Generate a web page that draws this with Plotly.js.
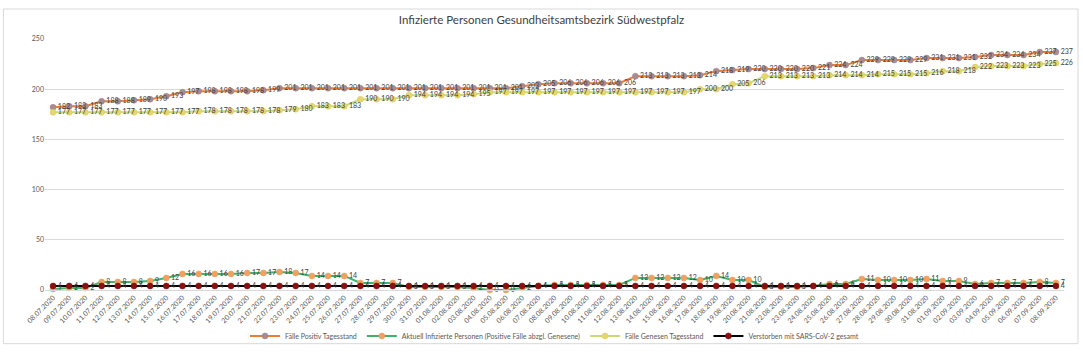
<!DOCTYPE html>
<html>
<head>
<meta charset="utf-8">
<script src="https://cdn.plot.ly/plotly-3.0.1.min.js"></script>
<style>
html,body{margin:0;padding:0;background:#ffffff;}
#chart{width:1083px;height:363px;}
</style>
</head>
<body>
<div id="chart"></div>
<script>
const dates = [
 "08.07.2020","09.07.2020","10.07.2020","11.07.2020","12.07.2020","13.07.2020","14.07.2020","15.07.2020","16.07.2020","17.07.2020",
 "18.07.2020","19.07.2020","20.07.2020","21.07.2020","22.07.2020","23.07.2020","24.07.2020","25.07.2020","26.07.2020","27.07.2020",
 "28.07.2020","29.07.2020","30.07.2020","31.07.2020","01.08.2020","02.08.2020","03.08.2020","04.08.2020","05.08.2020","06.08.2020",
 "07.08.2020","08.08.2020","09.08.2020","10.08.2020","11.08.2020","12.08.2020","13.08.2020","14.08.2020","15.08.2020","16.08.2020",
 "17.08.2020","18.08.2020","19.08.2020","20.08.2020","21.08.2020","22.08.2020","23.08.2020","24.08.2020","25.08.2020","26.08.2020",
 "27.08.2020","28.08.2020","29.08.2020","30.08.2020","31.08.2020","01.09.2020","02.09.2020","03.09.2020","04.09.2020","05.09.2020",
 "06.09.2020","07.09.2020","08.09.2020"
];

const positiv = [
 182,183,183,188,188,189,190,193,197,198,
 198,198,198,199,201,201,201,201,201,201,
 201,201,201,201,201,201,201,201,201,203,
 205,206,206,206,206,206,213,213,213,213,
 214,218,219,220,220,220,220,221,224,224,
 229,229,229,229,231,231,231,232,234,234,
 234,237,237
];

const aktuell = [
 1,2,2,8,8,8,9,12,16,16,
 16,16,17,17,18,17,14,14,14,7,
 7,7,3,3,3,3,2,0,0,2,
 4,5,5,5,5,5,12,12,12,12,
 10,14,10,10,3,3,3,4,6,6,
 11,10,10,10,11,9,9,6,7,7,
 7,8,7
];

const genesen = [
 177,177,177,177,177,177,177,177,177,178,
 178,178,178,178,179,180,183,183,183,190,
 190,190,194,194,194,194,195,197,197,197,
 197,197,197,197,197,197,197,197,197,197,
 200,200,205,206,213,213,213,213,214,214,
 214,215,215,215,216,218,218,222,223,223,
 223,225,226
];

const verstorben = [
 4,4,4,4,4,4,4,4,4,4,
 4,4,4,4,4,4,4,4,4,4,
 4,4,4,4,4,4,4,4,4,4,
 4,4,4,4,4,4,4,4,4,4,
 4,4,4,4,4,4,4,4,4,4,
 4,4,4,4,4,4,4,4,4,4,
 4,4,4
];

const seriesNames = [
 "Fälle Positiv Tagesstand",
 "Aktuell Infizierte Personen (Positive Fälle abzgl. Genesene)",
 "Fälle Genesen Tagesstand",
 "Verstorben mit SARS-CoV-2 gesamt"
];

const yTicks = [0,50,100,150,200,250];

const FONT = "Lato, 'Liberation Sans', sans-serif";
const labelFont = {family: FONT, size: 7, color: "#404040"};

function mk(name, y, lineColor, markerColor, markerLine) {
  return {
    type: "scatter",
    mode: "lines+markers+text",
    name: name,
    x: dates,
    y: y,
    text: y.map(String),
    textposition: "middle right",
    textfont: labelFont,
    cliponaxis: false,
    line: {color: lineColor, width: 2},
    marker: {color: markerColor, size: 6, line: {color: markerLine, width: 0.5}},
    hoverinfo: "x+y+name"
  };
}

const data = [
  mk(seriesNames[0], positiv, "#ED7D31", "#A98C91", "#9C7F84"),
  mk(seriesNames[1], aktuell, "#3DB36B", "#F0A060", "#E89A58"),
  mk(seriesNames[2], genesen, "#C6DB7C", "#E6D66E", "#D8C860"),
  mk(seriesNames[3], verstorben, "#000000", "#8B1010", "#7A0A0A")
];

const layout = {
  width: 1083,
  height: 363,
  margin: {l: 44.6, r: 19, t: 39, b: 64.5},
  paper_bgcolor: "#ffffff",
  plot_bgcolor: "#ffffff",
  font: {family: FONT, color: "#595959"},
  title: {
    text: "Infizierte Personen Gesundheitsamtsbezirk Südwestpfalz",
    font: {family: FONT, size: 11.5, color: "#404040"},
    x: 0.5, xref: "container", xanchor: "center",
    y: 1 - 20/363, yref: "container", yanchor: "middle"
  },
  xaxis: {
    type: "category",
    range: [-0.5, dates.length - 0.5],
    tickangle: -45,
    tickfont: {family: FONT, size: 7, color: "#595959"},
    showgrid: false,
    showline: true,
    linecolor: "#D9D9D9",
    linewidth: 1,
    ticks: "",
    fixedrange: true
  },
  yaxis: {
    range: [0, 250],
    tickvals: yTicks,
    ticktext: yTicks.map(String),
    tickfont: {family: FONT, size: 7, color: "#595959"},
    showgrid: true,
    gridcolor: "#D9D9D9",
    gridwidth: 1,
    zeroline: false,
    showline: false,
    ticks: "",
    fixedrange: true
  },
  showlegend: true,
  legend: {
    orientation: "h",
    x: 0.5, xanchor: "center",
    y: -(346 - 298.5) / 259.5, yanchor: "middle",
    font: {family: FONT, size: 7, color: "#595959"},
    itemwidth: 30,
    bgcolor: "rgba(0,0,0,0)"
  },
  shapes: [
    {type: "rect", xref: "paper", yref: "paper",
     x0: -41.6/1019.4, x1: 1 + 14/1019.4,
     y0: -(354 - 298.5)/259.5, y1: 1 + 31/259.5,
     line: {color: "#D9D9D9", width: 1}, fillcolor: "rgba(0,0,0,0)", layer: "below"}
  ]
};

Plotly.newPlot("chart", data, layout, {displayModeBar: false, staticPlot: true});
</script>
</body>
</html>
